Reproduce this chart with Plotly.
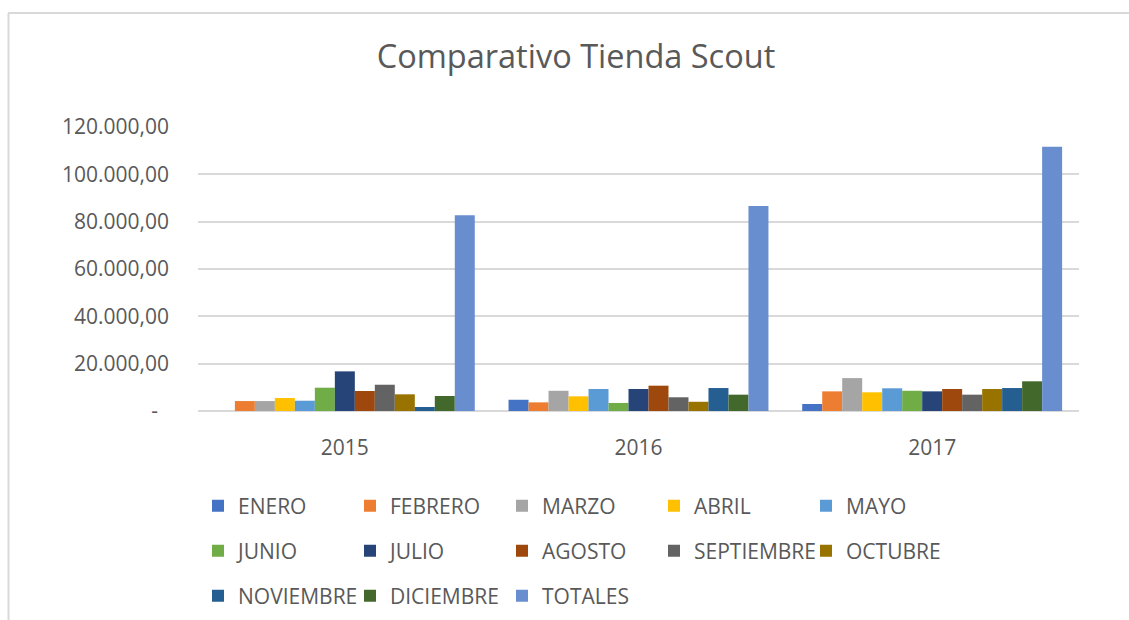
import plotly.graph_objects as go

years = ["2015", "2016", "2017"]
months = ["ENERO", "FEBRERO", "MARZO", "ABRIL", "MAYO", "JUNIO", "JULIO",
          "AGOSTO", "SEPTIEMBRE", "OCTUBRE", "NOVIEMBRE", "DICIEMBRE", "TOTALES"]

enero = [0, 4750, 2950]
febrero = [4200, 3650, 8300]
marzo = [4200, 8550, 13900]
abril = [5500, 6200, 7900]
mayo = [4350, 9300, 9600]
junio = [9850, 3400, 8550]
julio = [16750, 9300, 8300]
agosto = [8450, 10700, 9300]
septiembre = [11100, 5800, 6900]
octubre = [7050, 3900, 9300]
noviembre = [1700, 9700, 9700]
diciembre = [6350, 6900, 12550]
totales = [82700, 86600, 111700]

series = [enero, febrero, marzo, abril, mayo, junio, julio, agosto,
          septiembre, octubre, noviembre, diciembre, totales]
colors = ["#4472C4", "#ED7D31", "#A5A5A5", "#FFC000", "#5B9BD5", "#70AD47",
          "#264478", "#9E480E", "#636363", "#997300", "#255E91", "#43682B",
          "#698ED0"]

y_tickvals = [0, 20000, 40000, 60000, 80000, 100000, 120000]
y_ticktext = ["-\u00a0\u00a0", "20.000,00", "40.000,00", "60.000,00",
              "80.000,00", "100.000,00", "120.000,00"]

W, H = 1129, 620
ML, MR, MT, MB = 198, 50, 127, 209
FONT = "Open Sans"
GREY = "#595959"

legend_rows = ["legend"] * 5 + ["legend2"] * 5 + ["legend3"] * 3

fig = go.Figure()
for name, vals, col, lg in zip(months, series, colors, legend_rows):
    fig.add_trace(go.Bar(name=name, x=years, y=vals, marker_color=col,
                         marker_line_width=0, legend=lg))

pw = W - ML - MR
ph = H - MT - MB


def px_x(px):
    return (px - ML) / pw


def px_y(py):
    return (H - MB - py) / ph


legend_common = dict(orientation="h", xref="container", yref="container",
                     xanchor="left", yanchor="middle",
                     font=dict(family=FONT, size=21, color=GREY),
                     entrywidth=107, entrywidthmode="pixels",
                     bgcolor="rgba(0,0,0,0)", itemclick=False)

fig.update_layout(
    width=W, height=H,
    margin=dict(l=ML, r=MR, t=MT, b=MB, pad=0),
    paper_bgcolor="white", plot_bgcolor="white",
    barmode="group", bargap=0.115, bargroupgap=0,
    font=dict(family=FONT, size=21, color=GREY),
    title=dict(text="Comparativo Tienda Scout", xref="container",
               yref="container", x=576 / W, y=1 - 57 / H,
               xanchor="center", yanchor="middle",
               font=dict(family=FONT, size=32.5, color=GREY)),
    xaxis=dict(showgrid=False, showline=False, ticks="", zeroline=False,
               ticklabelstandoff=22, tickfont=dict(size=21, color=GREY)),
    yaxis=dict(range=[0, 120000], tickvals=y_tickvals, ticktext=y_ticktext,
               showgrid=True, gridcolor="#D9D9D9", gridwidth=2,
               zeroline=True, zerolinecolor="#D9D9D9", zerolinewidth=2,
               showline=False, ticks="", ticklabelstandoff=28,
               tickfont=dict(size=21, color=GREY)),
    legend=dict(x=198 / W, y=1 - 506 / H, **legend_common),
    legend2=dict(x=198 / W, y=1 - 551 / H, **legend_common),
    legend3=dict(x=198 / W, y=1 - 596 / H, **legend_common),
    showlegend=True,
)

# chart frame (left and top border)
fig.add_shape(type="line", xref="paper", yref="paper",
              x0=px_x(8.5), x1=px_x(8.5), y0=px_y(13), y1=px_y(H + 5),
              line=dict(color="#D9D9D9", width=2))
fig.add_shape(type="line", xref="paper", yref="paper",
              x0=px_x(8), x1=px_x(W + 5), y0=px_y(13), y1=px_y(13),
              line=dict(color="#D9D9D9", width=2))

fig.write_html("out.html",
               config={"displayModeBar": False},
               post_script="document.body.style.margin='0px';")
